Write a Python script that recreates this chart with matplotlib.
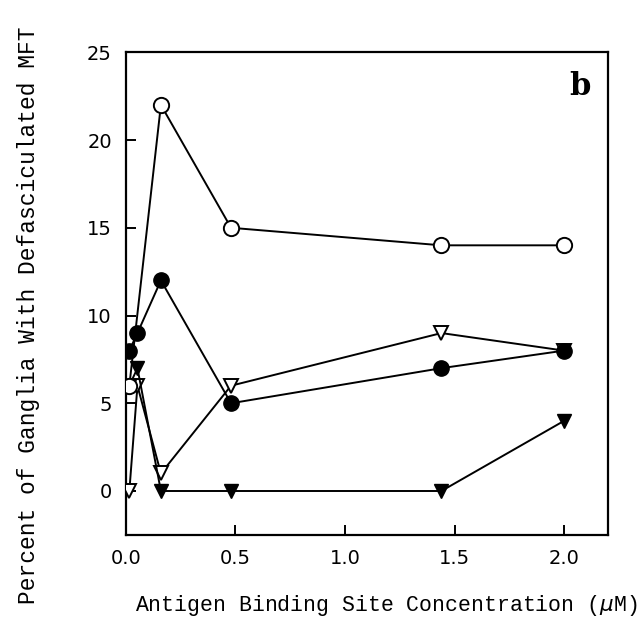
import matplotlib
matplotlib.use("Agg")
import matplotlib.pyplot as plt

# antigen binding site concentration (uM)
x_open_circle = [0.016, 0.16, 0.48, 1.44, 2.0]
y_open_circle = [6, 22, 15, 14, 14]

x_filled_circle = [0.016, 0.053, 0.16, 0.48, 1.44, 2.0]
y_filled_circle = [8, 9, 12, 5, 7, 8]

x_open_tri = [0.016, 0.053, 0.16, 0.48, 1.44, 2.0]
y_open_tri = [0, 6, 1, 6, 9, 8]

x_filled_tri = [0.016, 0.053, 0.16, 0.48, 1.44, 2.0]
y_filled_tri = [6, 7, 0, 0, 0, 4]

xticks = [0.0, 0.5, 1.0, 1.5, 2.0]
yticks = [0, 5, 10, 15, 20, 25]

fig = plt.figure(figsize=(6.42, 6.30), dpi=100)
ax = fig.add_axes([0.196, 0.151, 0.751, 0.766])

lw = 1.4
ax.plot(x_open_tri, y_open_tri, color="k", lw=lw, marker="v", markersize=10,
        markerfacecolor="white", markeredgecolor="k", markeredgewidth=1.4, zorder=3)
ax.plot(x_filled_tri, y_filled_tri, color="k", lw=lw, marker="v", markersize=10,
        markerfacecolor="k", markeredgecolor="k", zorder=4)
ax.plot(x_filled_circle, y_filled_circle, color="k", lw=lw, marker="o", markersize=11,
        markerfacecolor="k", markeredgecolor="k", zorder=4)
ax.plot(x_open_circle, y_open_circle, color="k", lw=lw, marker="o", markersize=11,
        markerfacecolor="white", markeredgecolor="k", markeredgewidth=1.4, zorder=5)

ax.set_xlim(0, 2.2)
ax.set_ylim(-2.5, 25)
ax.set_xticks(xticks)
ax.set_xticklabels(["%.1f" % t for t in xticks])
ax.set_yticks(yticks)
ax.tick_params(direction="in", length=7.5, width=1.4, pad=10, labelsize=14)
for s in ax.spines.values():
    s.set_linewidth(1.6)

ax.text(0.963, 0.93, "b", transform=ax.transAxes, ha="right", va="center",
        fontsize=22, fontweight="bold", family="DejaVu Serif")

ax.set_xlabel(r"Antigen Binding Site Concentration ($\mu$M)", family="Liberation Mono",
              fontsize=15.5)
ax.xaxis.set_label_coords(0.54, -0.12)
fig.text(0.045, 0.5, "Percent of Ganglia With Defasciculated MFT", rotation=90,
         ha="center", va="center", family="Liberation Mono", fontsize=16.5)

fig.savefig("out.png", dpi=100)
